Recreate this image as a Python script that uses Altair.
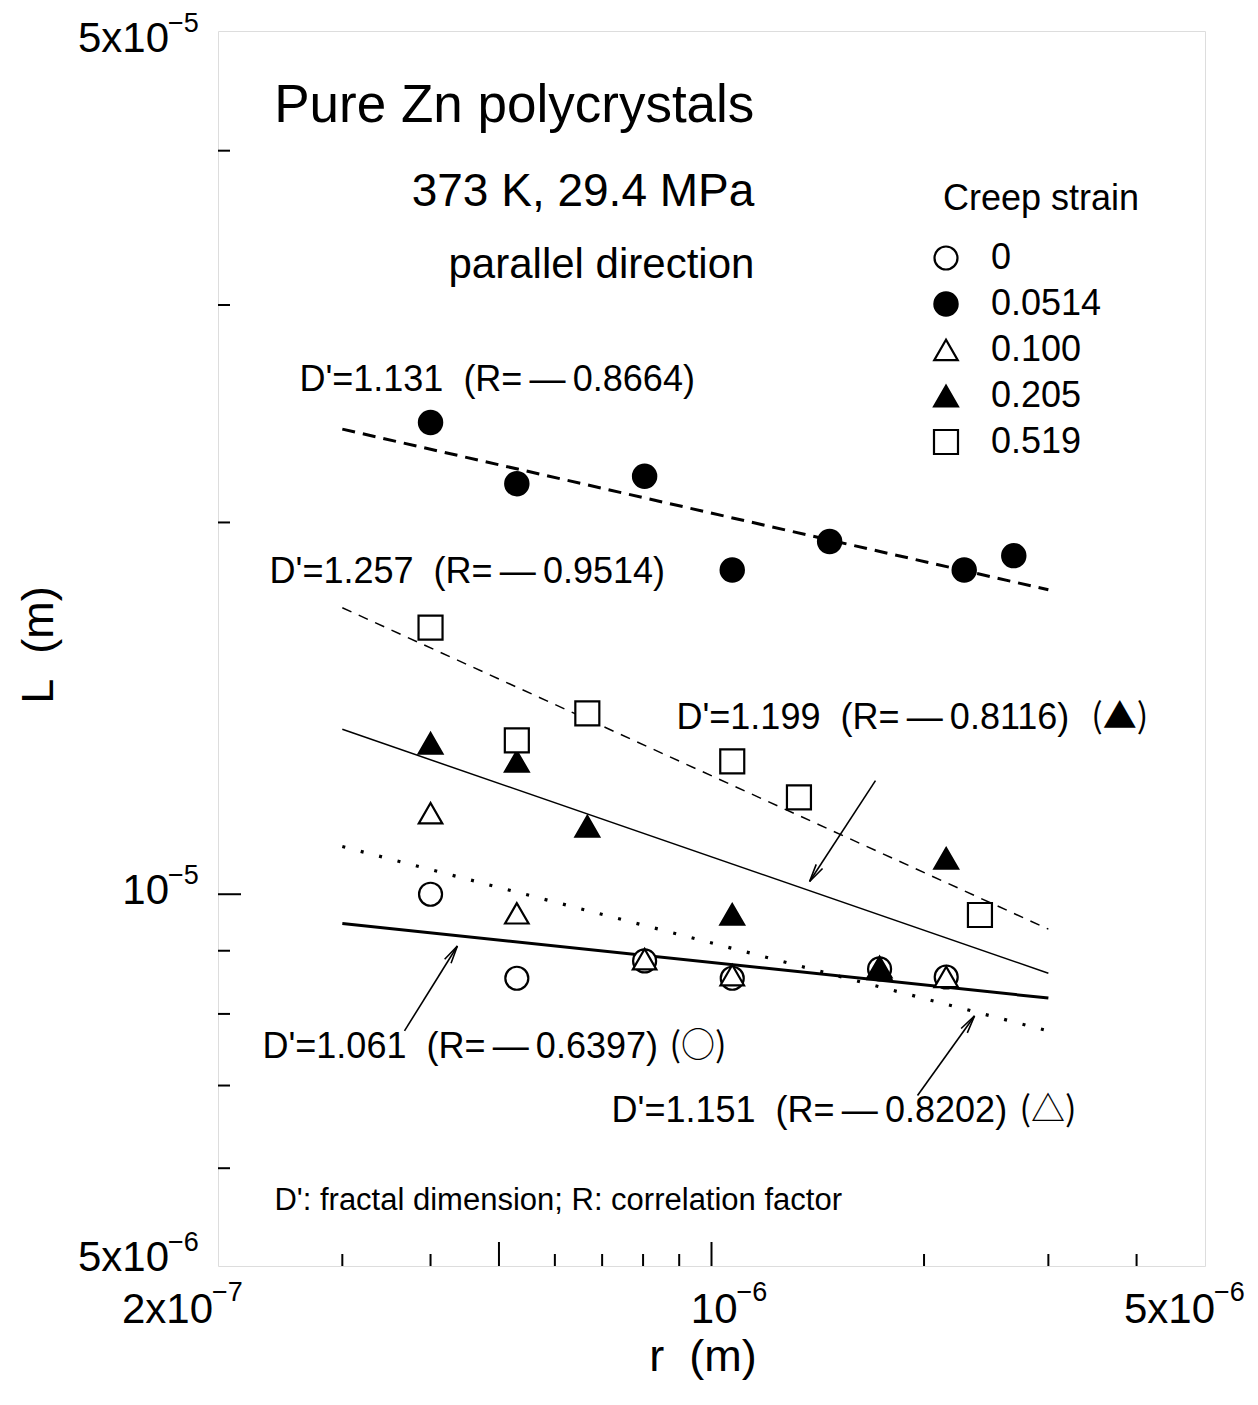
import altair as alt
import pandas as pd

NB = "\u00a0"

# ---------------- data ----------------
x_domain = [2e-7, 5e-6]
y_domain = [5e-6, 5e-5]

strain_levels = ["0", "0.0514", "0.100", "0.205", "0.519"]
legend_title = "Creep strain"

r_0 = [4.0e-7, 5.3e-7, 8.04e-7, 1.07e-6, 1.73e-6, 2.15e-6]
L_0 = [1.0e-5, 8.55e-6, 8.83e-6, 8.55e-6, 8.70e-6, 8.57e-6]
r_0514 = [4.0e-7, 5.3e-7, 8.04e-7, 1.07e-6, 1.47e-6, 2.28e-6, 2.68e-6]
L_0514 = [2.41e-5, 2.15e-5, 2.18e-5, 1.83e-5, 1.93e-5, 1.83e-5, 1.88e-5]
r_100 = [4.0e-7, 5.3e-7, 8.04e-7, 1.07e-6, 1.73e-6, 2.15e-6]
L_100 = [1.163e-5, 9.65e-6, 8.86e-6, 8.60e-6, 8.70e-6, 8.57e-6]
r_205 = [4.0e-7, 5.3e-7, 6.67e-7, 1.07e-6, 1.73e-6, 2.15e-6]
L_205 = [1.325e-5, 1.281e-5, 1.135e-5, 9.63e-6, 8.73e-6, 1.069e-5]
r_519 = [4.0e-7, 5.3e-7, 6.67e-7, 1.07e-6, 1.33e-6, 2.40e-6]
L_519 = [1.644e-5, 1.332e-5, 1.401e-5, 1.281e-5, 1.198e-5, 9.62e-6]

# fitted lines (end points)
fit_r = [3e-7, 3e-6]
fit_0 = [9.47e-6, 8.24e-6]
fit_0514 = [2.38e-5, 1.764e-5]
fit_100 = [1.093e-5, 7.75e-6]
fit_205 = [1.36e-5, 8.63e-6]
fit_519 = [1.706e-5, 9.37e-6]

# tick values
x_minor = [3e-7, 4e-7, 6e-7, 7e-7, 8e-7, 9e-7, 2e-6, 3e-6, 4e-6]
x_major = [5e-7, 1e-6]
y_minor = [6e-6, 7e-6, 8e-6, 9e-6, 2e-5, 3e-5, 4e-5]
y_major = [1e-5]

x_label_vals = [2e-7, 1e-6, 5e-6]
x_label_base = ["2x10", "10", "5x10"]
x_label_exp = ["\u22127", "\u22126", "\u22126"]
y_label_vals = [5e-6, 1e-5, 5e-5]
y_label_base = ["5x10", "10", "5x10"]
y_label_exp = ["\u22126", "\u22125", "\u22125"]

# header text
head_r = [1.15e-6, 1.15e-6, 1.15e-6]
head_L = [4.35e-5, 3.70e-5, 3.23e-5]
head_text = ["Pure Zn polycrystals", "373 K, 29.4 MPa", "parallel direction"]

# annotations
DASH = "\u2009\u2014\u2009"
ann_r = [2.608e-7, 2.366e-7, 8.92e-7, 2.312e-7, 7.22e-7]
ann_L = [2.61e-5, 1.824e-5, 1.388e-5, 7.52e-6, 6.68e-6]
ann_text = [
    "D'=1.131  (R=" + DASH + "0.8664)",
    "D'=1.257  (R=" + DASH + "0.9514)",
    "D'=1.199  (R=" + DASH + "0.8116)",
    "D'=1.061  (R=" + DASH + "0.6397)",
    "D'=1.151  (R=" + DASH + "0.8202)",
]
sym_r = [3.45e-6, 8.72e-7, 2.731e-6]
sym_L = [1.388e-5, 7.52e-6, 6.68e-6]
sym_text = ["(\u25b2)", "(\u25cb)", "(\u25b3)"]
note_r = [2.404e-7]
note_L = [5.64e-6]
note_text = ["D': fractal dimension; R: correlation factor"]

# arrows (tail -> head)
arr_r1 = [1.707e-6, 3.674e-7, 1.958e-6]
arr_L1 = [1.236e-5, 7.75e-6, 6.87e-6]
arr_r2 = [1.377e-6, 4.366e-7, 2.358e-6]
arr_L2 = [1.024e-5, 9.08e-6, 7.97e-6]
arr_angle = [213, 32, 35]

# ---------------- helpers ----------------
FONT = "Liberation Sans"
FONT_SYM = "Noto Sans CJK JP, DejaVu Sans"


def xs():
    return alt.Scale(type="log", domain=x_domain, nice=False)


def ys():
    return alt.Scale(type="log", domain=y_domain, nice=False)


def X(f):
    return alt.X(f, scale=xs(), axis=None)


def Y(f):
    return alt.Y(f, scale=ys(), axis=None)


def nb(s):
    return s.replace(" ", NB)


# ---------------- points ----------------
rows = []
for lvl, rr, ll in [("0", r_0, L_0), ("0.0514", r_0514, L_0514), ("0.100", r_100, L_100),
                    ("0.205", r_205, L_205), ("0.519", r_519, L_519)]:
    for a, b in zip(rr, ll):
        rows.append({"r": a, "L": b, "strain": lvl})
pts = pd.DataFrame(rows)

leg = dict(
    title=None, orient="none", legendX=710, legendY=209, padding=0,
    labelFontSize=36, labelFont=FONT, labelColor="black",
    labelLimit=600, labelOffset=27, rowPadding=10, symbolStrokeWidth=2.2,
    symbolOpacity=1,
)

points = alt.Chart(pts).mark_point(filled=True, strokeWidth=2.2, opacity=1).encode(
    x=X("r:Q"),
    y=Y("L:Q"),
    shape=alt.Shape("strain:N", scale=alt.Scale(domain=strain_levels,
                    range=["circle", "circle", "triangle-up", "triangle-up", "square"]),
                    legend=alt.Legend(**leg)),
    fill=alt.Fill("strain:N", scale=alt.Scale(domain=strain_levels,
                  range=["white", "black", "white", "black", "white"]),
                  legend=alt.Legend(**leg)),
    stroke=alt.Stroke("strain:N", scale=alt.Scale(domain=strain_levels,
                      range=["black", "black", "black", "black", "black"]),
                      legend=alt.Legend(**leg)),
    size=alt.Size("strain:N", scale=alt.Scale(domain=strain_levels,
                  range=[529, 576, 729, 729, 484]),
                  legend=alt.Legend(**leg)),
)

legend_head = alt.Chart(pd.DataFrame({"t": [legend_title]})).mark_text(
    align="left", baseline="middle", fontSize=36, font=FONT, color="black").encode(
    x=alt.value(725), y=alt.value(168), text="t:N")


# ---------------- fitted lines ----------------
def fit_line(vals, width, dash=None):
    df = pd.DataFrame({"r": fit_r, "L": vals})
    kw = dict(stroke="black", strokeWidth=width)
    if dash:
        kw["strokeDash"] = dash
    return alt.Chart(df).mark_line(**kw).encode(x=X("r:Q"), y=Y("L:Q"))


lines = [
    fit_line(fit_0514, 3, [13, 8]),
    fit_line(fit_519, 1.5, [10, 8]),
    fit_line(fit_205, 1.5),
    fit_line(fit_100, 3.2, [3, 16]),
    fit_line(fit_0, 3),
]

# ---------------- ticks ----------------
H = 1235
W = 987


def yticks(vals, ln):
    return alt.Chart(pd.DataFrame({"v": vals})).mark_rule(stroke="black", strokeWidth=2).encode(
        y=Y("v:Q"), x=alt.value(0), x2=alt.value(ln))


def xticks(vals, ln):
    return alt.Chart(pd.DataFrame({"v": vals})).mark_rule(stroke="black", strokeWidth=2).encode(
        x=X("v:Q"), y=alt.value(H), y2=alt.value(H - ln))


ticks = [yticks(y_minor, 12), yticks(y_major, 23), xticks(x_minor, 12), xticks(x_major, 24)]

# ---------------- tick labels ----------------
y_label_dy = [-8, -3, 8]
x_label_dx = [-5, 26, 10]
tick_labels = []
for i in range(3):
    yl = pd.DataFrame({"v": [y_label_vals[i]], "b": [y_label_base[i]], "e": [y_label_exp[i]]})
    tick_labels.append(alt.Chart(yl).mark_text(
        align="right", baseline="middle", fontSize=42, font=FONT, color="black",
        dy=y_label_dy[i]).encode(y=Y("v:Q"), x=alt.value(-49), text="b:N"))
    tick_labels.append(alt.Chart(yl).mark_text(
        align="left", baseline="middle", fontSize=27, font=FONT, color="black",
        dy=y_label_dy[i] - 15).encode(y=Y("v:Q"), x=alt.value(-50), text="e:N"))
    xl = pd.DataFrame({"v": [x_label_vals[i]], "b": [x_label_base[i]], "e": [x_label_exp[i]]})
    tick_labels.append(alt.Chart(xl).mark_text(
        align="right", baseline="middle", fontSize=42, font=FONT, color="black",
        dx=x_label_dx[i]).encode(x=X("v:Q"), y=alt.value(H + 44), text="b:N"))
    tick_labels.append(alt.Chart(xl).mark_text(
        align="left", baseline="middle", fontSize=27, font=FONT, color="black",
        dx=x_label_dx[i] - 1).encode(x=X("v:Q"), y=alt.value(H + 27), text="e:N"))

# axis titles
xtitle = alt.Chart(pd.DataFrame({"t": [nb("r  (m)")]})).mark_text(
    align="center", baseline="middle", fontSize=45, font=FONT, color="black").encode(
    x=alt.value(485), y=alt.value(1326), text="t:N")
ytitle = alt.Chart(pd.DataFrame({"t": [nb("L  (m)")]})).mark_text(
    align="center", baseline="middle", fontSize=45, font=FONT, color="black", angle=270).encode(
    x=alt.value(-179), y=alt.value(614), text="t:N")

# ---------------- header & annotations ----------------
head_sizes = [53, 46, 42]
heads = []
for i in range(3):
    df = pd.DataFrame({"r": [head_r[i]], "L": [head_L[i]], "t": [head_text[i]]})
    heads.append(alt.Chart(df).mark_text(align="right", baseline="middle", fontSize=head_sizes[i],
                                         font=FONT, color="black").encode(x=X("r:Q"), y=Y("L:Q"), text="t:N"))

ann = pd.DataFrame({"r": ann_r, "L": ann_L, "t": [nb(s) for s in ann_text]})
ann_layer = alt.Chart(ann).mark_text(align="left", baseline="middle", fontSize=36, font=FONT,
                                     color="black").encode(x=X("r:Q"), y=Y("L:Q"), text="t:N")
sym = pd.DataFrame({"r": sym_r, "L": sym_L, "t": sym_text})
sym_layer = alt.Chart(sym).mark_text(align="left", baseline="middle", fontSize=34, font=FONT_SYM,
                                     color="black").encode(x=X("r:Q"), y=Y("L:Q"), text="t:N")
note = pd.DataFrame({"r": note_r, "L": note_L, "t": note_text})
note_layer = alt.Chart(note).mark_text(align="left", baseline="middle", fontSize=31, font=FONT,
                                       color="black").encode(x=X("r:Q"), y=Y("L:Q"), text="t:N")

# arrows
arr = pd.DataFrame({"r1": arr_r1, "L1": arr_L1, "r2": arr_r2, "L2": arr_L2, "a": arr_angle})
arrow_shaft = alt.Chart(arr).mark_rule(stroke="black", strokeWidth=1.6).encode(
    x=X("r1:Q"), y=Y("L1:Q"), x2="r2:Q", y2="L2:Q")
arrow_head = alt.Chart(arr).mark_point(shape="M-0.42,2L0,0L0.42,2", filled=False, stroke="black",
                                       strokeWidth=1.6, size=324, opacity=1).encode(
    x=X("r2:Q"), y=Y("L2:Q"), angle=alt.Angle("a:Q", scale=None))

chart = alt.layer(
    *ticks, *lines, points, arrow_shaft, arrow_head,
    *tick_labels, xtitle, ytitle, legend_head,
    *heads, ann_layer, sym_layer, note_layer,
).properties(
    width=W, height=H,
    autosize=alt.AutoSizeParams(type="none"),
    padding={"left": 210, "top": 23, "right": 45, "bottom": 131},
).configure_view(stroke="black", strokeWidth=2.2).configure(font=FONT)

chart.save("out.html", embed_options={"renderer": "svg", "actions": False})
